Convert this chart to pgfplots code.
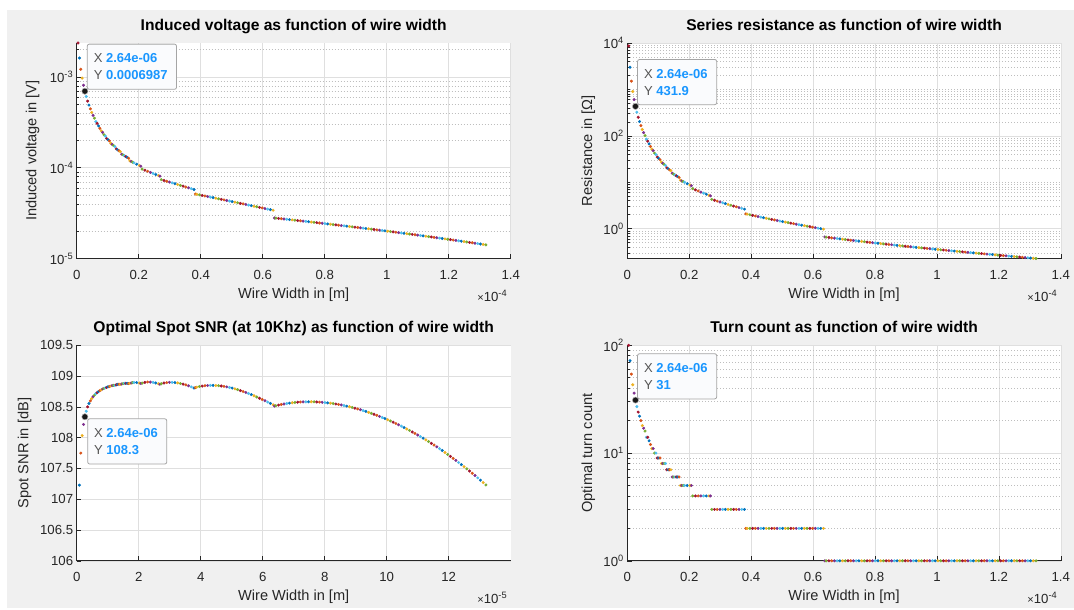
\documentclass[border=0pt]{standalone}
\usepackage{fontspec}
\setmainfont{Liberation Sans}
\usepackage{pgfplots}
\usepackage{pgfplotstable}
\pgfplotsset{compat=1.18}

\definecolor{mca}{RGB}{0,114,189}
\definecolor{mcb}{RGB}{217,83,25}
\definecolor{mcc}{RGB}{237,177,32}
\definecolor{mcd}{RGB}{126,47,142}
\definecolor{mce}{RGB}{119,172,48}
\definecolor{mcf}{RGB}{77,190,238}
\definecolor{mcg}{RGB}{162,20,47}
\definecolor{figbg}{RGB}{240,240,240}
\definecolor{axcol}{RGB}{38,38,38}
\definecolor{gridcol}{RGB}{223,223,223}
\definecolor{mgridcol}{RGB}{190,190,190}
\definecolor{tipblue}{RGB}{25,150,255}
\definecolor{tipgrey}{RGB}{85,85,85}
\definecolor{tipedge}{RGB}{165,165,165}
\definecolor{tipfill}{RGB}{250,251,253}

\newcommand{\tickfont}{\fontsize{13.2bp}{15.5bp}\selectfont}
\newcommand{\labfont}{\fontsize{14.6bp}{17bp}\selectfont}
\newcommand{\titlefont}{\fontsize{15.6bp}{18bp}\selectfont\bfseries}
\newcommand{\tipfont}{\fontsize{13bp}{17bp}\selectfont}

\pgfplotstableread{
k w V R S N c
1 0.44 2.3747e-3 8636.7 nan 100 g
2 0.88 1.62326e-3 3009.8 107.229 72 a
3 1.32 1.21912e-3 1506.2 107.749 54 b
4 1.76 9.7488e-4 901.97 108.034 43 c
5 2.20 8.1385e-4 603.03 108.215 36 d
6 2.64 6.9870e-4 431.90 108.339 31 e
7 3.08 6.1078e-4 323.19 108.430 27 f
8 3.52 5.4303e-4 251.41 108.500 24 g
9 3.96 4.9115e-4 203.11 108.554 22 a
10 4.40 4.4656e-4 166.20 108.598 20 b
11 4.84 4.0742e-4 137.17 108.635 18 c
12 5.28 3.7835e-4 117.49 108.665 17 d
13 5.72 3.5251e-4 101.41 108.690 16 e
14 6.16 3.2344e-4 84.92 108.713 14 f
15 6.60 3.0847e-4 76.91 108.731 14 g
16 7.04 2.8937e-4 67.40 108.750 13 a
17 7.48 2.7167e-4 59.19 108.765 12 b
18 7.92 2.5501e-4 52.01 108.777 11 c
19 8.36 2.4567e-4 48.13 108.790 11 d
20 8.80 2.3103e-4 42.47 108.800 10 e
21 9.24 2.2333e-4 39.59 108.810 10 f
22 9.68 2.1004e-4 34.97 108.816 9 g
23 10.12 2.0373e-4 32.82 108.827 9 a
24 10.56 1.9760e-4 30.84 108.831 9 b
25 11.00 1.8605e-4 27.30 108.838 8 c
26 11.44 1.8106e-4 25.81 108.847 8 d
27 11.88 1.7621e-4 24.42 108.850 8 e
28 12.32 1.7149e-4 23.14 108.848 8 f
29 12.76 1.6166e-4 20.51 108.860 7 g
30 13.20 1.5786e-4 19.53 108.866 7 a
31 13.64 1.5414e-4 18.61 108.867 7 b
32 14.08 1.5052e-4 17.76 108.865 7 c
33 14.52 1.4137e-4 15.64 108.871 6 d
34 14.96 1.3851e-4 14.99 108.878 6 e
35 15.40 1.3571e-4 14.38 108.882 6 f
36 15.84 1.3296e-4 13.80 108.883 6 g
37 16.28 1.3027e-4 13.25 108.882 6 a
38 16.72 1.2764e-4 12.73 108.878 6 b
39 17.16 1.1935e-4 11.12 108.881 5 c
40 17.60 1.1733e-4 10.73 108.889 5 d
41 18.04 1.1535e-4 10.36 108.893 5 e
42 18.48 1.1340e-4 10.007 108.896 5 f
44 19.36 1.0958e-4 9.348 108.895 5 a
46 20.24 1.0590e-4 8.746 108.887 5 c
47 20.68 1.0411e-4 8.465 108.881 5 d
48 21.12 9.6683e-5 7.290 108.887 4 e
50 22.00 9.4071e-5 6.883 108.898 4 g
52 22.88 9.1525e-5 6.508 108.904 4 b
54 23.76 8.9045e-5 6.160 108.903 4 d
56 24.64 8.6630e-5 5.838 108.898 4 f
58 25.52 8.4279e-5 5.537 108.888 4 a
60 26.40 8.1994e-5 5.257 108.875 4 c
61 26.84 8.0877e-5 5.124 108.868 4 d
62 27.28 7.4103e-5 4.294 108.875 3 e
64 28.16 7.2587e-5 4.109 108.887 3 g
66 29.04 7.1097e-5 3.936 108.894 3 b
68 29.92 6.9635e-5 3.772 108.898 3 d
70 30.80 6.8200e-5 3.618 108.898 3 f
72 31.68 6.6792e-5 3.473 108.895 3 a
74 32.56 6.5411e-5 3.335 108.889 3 c
76 33.44 6.4058e-5 3.205 108.880 3 e
78 34.32 6.2732e-5 3.081 108.869 3 g
80 35.20 6.1434e-5 2.964 108.857 3 b
82 36.08 6.0162e-5 2.852 108.842 3 d
84 36.96 5.8916e-5 2.746 108.825 3 f
86 37.84 5.7699e-5 2.644 108.807 3 a
87 38.28 5.1380e-5 2.0938 108.813 2 b
88 38.72 5.1022e-5 2.0618 108.820 2 c
90 39.60 5.0310e-5 2.0001 108.830 2 e
92 40.48 4.9606e-5 1.9410 108.838 2 g
94 41.36 4.8912e-5 1.8844 108.844 2 b
96 42.24 4.8223e-5 1.8301 108.847 2 d
98 43.12 4.7544e-5 1.7781 108.849 2 f
100 44.00 4.6871e-5 1.7282 108.849 2 a
102 44.88 4.6206e-5 1.6802 108.847 2 c
104 45.76 4.5550e-5 1.6341 108.844 2 e
106 46.64 4.4900e-5 1.5896 108.839 2 g
108 47.52 4.4260e-5 1.5469 108.833 2 b
110 48.40 4.3626e-5 1.5057 108.825 2 d
112 49.28 4.3000e-5 1.4660 108.815 2 f
114 50.16 4.2382e-5 1.4277 108.805 2 a
116 51.04 4.1773e-5 1.3906 108.793 2 c
118 51.92 4.1170e-5 1.3549 108.780 2 e
120 52.80 4.0575e-5 1.3203 108.765 2 g
122 53.68 3.9989e-5 1.2869 108.750 2 b
124 54.56 3.9409e-5 1.2546 108.734 2 d
126 55.44 3.8838e-5 1.2232 108.717 2 f
128 56.32 3.8274e-5 1.1929 108.699 2 a
130 57.20 3.7718e-5 1.1635 108.681 2 c
132 58.08 3.7170e-5 1.1349 108.661 2 e
134 58.96 3.6630e-5 1.1073 108.641 2 g
136 59.84 3.6097e-5 1.0804 108.621 2 b
138 60.72 3.5573e-5 1.0543 108.600 2 d
140 61.60 3.5056e-5 1.0290 108.578 2 f
142 62.48 3.4546e-5 1.0044 108.556 2 a
144 63.36 3.4045e-5 0.98045 108.534 2 c
145 63.80 2.7980e-5 0.66536 108.513 1 d
146 64.24 2.7876e-5 0.65957 108.519 1 e
148 65.12 2.7668e-5 0.64823 108.529 1 g
150 66.00 2.7461e-5 0.63719 108.539 1 b
152 66.88 2.7255e-5 0.62644 108.547 1 d
154 67.76 2.7049e-5 0.61597 108.555 1 f
156 68.64 2.6845e-5 0.60577 108.561 1 a
158 69.52 2.6641e-5 0.59582 108.567 1 c
160 70.40 2.6438e-5 0.58613 108.572 1 e
162 71.28 2.6236e-5 0.57667 108.576 1 g
164 72.16 2.6034e-5 0.56745 108.579 1 b
166 73.04 2.5834e-5 0.55845 108.581 1 d
168 73.92 2.5634e-5 0.54966 108.582 1 f
170 74.80 2.5435e-5 0.54108 108.583 1 a
172 75.68 2.5236e-5 0.53270 108.583 1 c
174 76.56 2.5039e-5 0.52451 108.582 1 e
176 77.44 2.4842e-5 0.51651 108.580 1 g
178 78.32 2.4646e-5 0.50868 108.577 1 b
180 79.20 2.4450e-5 0.50104 108.574 1 d
182 80.08 2.4256e-5 0.49356 108.570 1 f
184 80.96 2.4062e-5 0.48624 108.565 1 a
186 81.84 2.3869e-5 0.47908 108.560 1 c
188 82.72 2.3677e-5 0.47207 108.554 1 e
190 83.60 2.3485e-5 0.46521 108.547 1 g
192 84.48 2.3295e-5 0.45849 108.539 1 b
194 85.36 2.3105e-5 0.45191 108.531 1 d
196 86.24 2.2916e-5 0.44546 108.522 1 f
198 87.12 2.2728e-5 0.43915 108.512 1 a
200 88.00 2.2540e-5 0.43296 108.502 1 c
202 88.88 2.2353e-5 0.42690 108.491 1 e
204 89.76 2.2167e-5 0.42095 108.479 1 g
206 90.64 2.1982e-5 0.41512 108.467 1 b
208 91.52 2.1798e-5 0.40940 108.454 1 d
210 92.40 2.1614e-5 0.40379 108.440 1 f
212 93.28 2.1431e-5 0.39828 108.426 1 a
214 94.16 2.1249e-5 0.39288 108.411 1 c
216 95.04 2.1068e-5 0.38758 108.396 1 e
218 95.92 2.0888e-5 0.38237 108.380 1 g
220 96.80 2.0708e-5 0.37726 108.363 1 b
222 97.68 2.0529e-5 0.37225 108.346 1 d
224 98.56 2.0351e-5 0.36732 108.328 1 f
226 99.44 2.0173e-5 0.36248 108.310 1 a
228 100.32 1.9997e-5 0.35772 108.291 1 c
230 101.20 1.9821e-5 0.35305 108.271 1 e
232 102.08 1.9646e-5 0.34845 108.251 1 g
234 102.96 1.9471e-5 0.34394 108.230 1 b
236 103.84 1.9298e-5 0.33950 108.209 1 d
238 104.72 1.9125e-5 0.33514 108.187 1 f
240 105.60 1.8953e-5 0.33085 108.164 1 a
242 106.48 1.8782e-5 0.32663 108.141 1 c
244 107.36 1.8611e-5 0.32248 108.118 1 e
246 108.24 1.8442e-5 0.31840 108.093 1 g
248 109.12 1.8273e-5 0.31438 108.069 1 b
250 110.00 1.8105e-5 0.31042 108.043 1 d
252 110.88 1.7937e-5 0.30654 108.017 1 f
254 111.76 1.7771e-5 0.30271 107.991 1 a
256 112.64 1.7605e-5 0.29894 107.964 1 c
258 113.52 1.7440e-5 0.29523 107.937 1 e
260 114.40 1.7276e-5 0.29157 107.908 1 g
262 115.28 1.7112e-5 0.28798 107.880 1 b
264 116.16 1.6950e-5 0.28443 107.851 1 d
266 117.04 1.6788e-5 0.28094 107.821 1 f
268 117.92 1.6627e-5 0.27750 107.791 1 a
270 118.80 1.6466e-5 0.27412 107.760 1 c
272 119.68 1.6307e-5 0.27078 107.728 1 e
274 120.56 1.6148e-5 0.26750 107.696 1 g
276 121.44 1.5990e-5 0.26425 107.664 1 b
278 122.32 1.5833e-5 0.26106 107.631 1 d
280 123.20 1.5677e-5 0.25791 107.597 1 f
282 124.08 1.5521e-5 0.25481 107.563 1 a
284 124.96 1.5366e-5 0.25174 107.529 1 c
286 125.84 1.5212e-5 0.24873 107.494 1 e
288 126.72 1.5058e-5 0.24575 107.458 1 g
290 127.60 1.4906e-5 0.24282 107.421 1 b
292 128.48 1.4754e-5 0.23993 107.385 1 d
294 129.36 1.4603e-5 0.23707 107.347 1 f
296 130.24 1.4453e-5 0.23425 107.309 1 a
298 131.12 1.4303e-5 0.23148 107.271 1 c
300 132.00 1.4155e-5 0.22873 107.232 1 e
}\coildata

\pgfplotsset{
  mplot/.style={
    scale only axis, width=434bp, height=215.5bp,
    clip=false,
    axis background/.style={fill=white},
    axis x line*=bottom, axis y line*=left,
    every non boxed x axis/.append style={x axis line style={-}},
    every non boxed y axis/.append style={y axis line style={-}},
    axis line style={-, draw=axcol, line width=0.7bp},
    tick align=inside, tick pos=left,
    major tick length=4.5bp, minor tick length=2.5bp,
    every tick/.style={axcol, line width=0.6bp},
    xmajorgrids, ymajorgrids,
    major grid style={gridcol, line width=0.6bp},
    minor grid style={mgridcol, line width=0.6bp, dash pattern=on 0.9bp off 2.1bp},
    ticklabel style={font=\tickfont, text=axcol},
    /pgf/number format/assume math mode=true,
    xticklabel style={anchor=base, yshift=-20.8bp},
    yticklabel style={anchor=east},
    title style={font=\titlefont, at={(axis description cs:0.5,1)}, anchor=base, yshift=7bp},
    xlabel style={font=\labfont, text=axcol, at={(axis description cs:0.5,0)}, anchor=base, yshift=-39.5bp},
    every axis y label/.style={font=\labfont, text=axcol, at={(axis description cs:0,0.5)}, rotate=90, anchor=center},
  },
  mdots/.style={scatter, only marks, mark=*, mark size=1.3bp,
    scatter src=explicit symbolic,
    scatter/classes={a={mca},b={mcb},c={mcc},d={mcd},e={mce},f={mcf},g={mcg}}},
  tipdot/.style={only marks, mark=*, mark size=3.1bp, mark options={fill=black!90, draw=gray!60, line width=0.5bp}},
}
\tikzset{
  tip/.style={draw=tipedge, fill=tipfill, rounded corners=2bp, line width=0.8bp,
    inner xsep=6.5bp, inner ysep=9.5bp, align=left, font=\tipfont, text=tipgrey},
  expo/.style={anchor=east, font=\tickfont, text=axcol, yshift=-37bp},
}

\newcommand{\tipval}[1]{{\bfseries\color{tipblue}#1}\hspace*{2.5bp}}
\newcommand{\expo}[1]{{\fontsize{11bp}{12bp}\selectfont\texttimes}10\textsuperscript{#1}}

\begin{document}
\begin{tikzpicture}
\useasboundingbox (0,0) rectangle (1074bp,-610bp);
\fill[white] (0,0) rectangle (1074bp,-610bp);
\fill[figbg] (7bp,-10bp) rectangle (1074bp,-608bp);

% ---------- Plot 1: induced voltage
\begin{axis}[mplot, at={(76.7bp,-43bp)}, anchor=north west,
  ymode=log, xmin=0, xmax=1.4, ymin=1e-5, ymax=2.3747e-3,
  xtick={0,0.2,0.4,0.6,0.8,1,1.2,1.4},
  ytick={1e-5,1e-4,1e-3},
  yticklabels={10\textsuperscript{-5},10\textsuperscript{-4},10\textsuperscript{-3}},
  minor ytick={2e-5,3e-5,4e-5,5e-5,6e-5,7e-5,8e-5,9e-5,2e-4,3e-4,4e-4,5e-4,6e-4,7e-4,8e-4,9e-4,2e-3},
  yminorgrids,
  title={Induced voltage as function of wire width},
  xlabel={Wire Width in [m]},
  ylabel={Induced voltage in [V]}, ylabel style={yshift=44bp}]
\addplot[mdots] table[x expr=\thisrow{w}/100, y=V, meta=c] {\coildata};
\addplot[tipdot] coordinates {(0.0264,6.987e-4)};
\node[tip, anchor=south west, xshift=2bp, yshift=1.5bp] at (axis cs:0.0264,6.987e-4)
  {X \tipval{2.64e-06}\\Y \tipval{0.0006987}};
\node[expo] at (rel axis cs:1,0) {\expo{-4}};
\end{axis}

% ---------- Plot 2: series resistance
\begin{axis}[mplot, at={(627.3bp,-43bp)}, anchor=north west, width=433.5bp,
  ymode=log, xmin=0, xmax=1.4, ymin=0.22873, ymax=1e4,
  xtick={0,0.2,0.4,0.6,0.8,1,1.2,1.4},
  ytick={1,100,10000},
  yticklabels={10\textsuperscript{0},10\textsuperscript{2},10\textsuperscript{4}},
  minor ytick={0.3,0.4,0.5,0.6,0.7,0.8,0.9,2,3,4,5,6,7,8,9,10,20,30,40,50,60,70,80,90,200,300,400,500,600,700,800,900,1000,2000,3000,4000,5000,6000,7000,8000,9000},
  yminorgrids,
  title={Series resistance as function of wire width},
  xlabel={Wire Width in [m]},
  ylabel={Resistance in [Ω]}, ylabel style={yshift=39bp}]
\addplot[mdots] table[x expr=\thisrow{w}/100, y=R, meta=c] {\coildata};
\addplot[tipdot] coordinates {(0.0264,431.9)};
\node[tip, anchor=south west, xshift=1.7bp, yshift=1.3bp] at (axis cs:0.0264,431.9)
  {X \tipval{2.64e-06}\\Y \tipval{431.9}};
\node[expo] at (rel axis cs:1,0) {\expo{-4}};
\end{axis}

% ---------- Plot 3: spot SNR
\begin{axis}[mplot, at={(76.7bp,-345.3bp)}, anchor=north west,
  xmin=0, xmax=14, ymin=106, ymax=109.5,
  xtick={0,2,4,6,8,10,12},
  ytick={106,106.5,107,107.5,108,108.5,109,109.5},
  scaled y ticks=false,
  yticklabel style={/pgf/number format/fixed, /pgf/number format/precision=1, /pgf/number format/1000 sep={}},
  title={Optimal Spot SNR (at 10Khz) as function of wire width},
  xlabel={Wire Width in [m]},
  ylabel={Spot SNR in [dB]}, ylabel style={yshift=52bp}]
\addplot[mdots] table[x expr=\thisrow{w}/10, y=S, meta=c] {\coildata};
\addplot[tipdot] coordinates {(0.264,108.339)};
\node[tip, anchor=north west, xshift=2.4bp, yshift=-1.6bp] at (axis cs:0.264,108.339)
  {X \tipval{2.64e-06}\\Y \tipval{108.3}};
\node[expo] at (rel axis cs:1,0) {\expo{-5}};
\end{axis}

% ---------- Plot 4: turn count
\begin{axis}[mplot, at={(627.3bp,-345.3bp)}, anchor=north west, width=433.5bp,
  ymode=log, xmin=0, xmax=1.4, ymin=1, ymax=100,
  xtick={0,0.2,0.4,0.6,0.8,1,1.2,1.4},
  ytick={1,10,100},
  yticklabels={10\textsuperscript{0},10\textsuperscript{1},10\textsuperscript{2}},
  minor ytick={2,3,4,5,6,7,8,9,20,30,40,50,60,70,80,90},
  yminorgrids,
  title={Turn count as function of wire width},
  xlabel={Wire Width in [m]},
  ylabel={Optimal turn count}, ylabel style={yshift=39bp}]
\addplot[mdots] table[x expr=\thisrow{w}/100, y=N, meta=c] {\coildata};
\addplot[tipdot] coordinates {(0.0264,31)};
\node[tip, anchor=south west, xshift=1.7bp, yshift=0.8bp] at (axis cs:0.0264,31)
  {X \tipval{2.64e-06}\\Y \tipval{31}};
\node[expo] at (rel axis cs:1,0) {\expo{-4}};
\end{axis}
\end{tikzpicture}
\end{document}
